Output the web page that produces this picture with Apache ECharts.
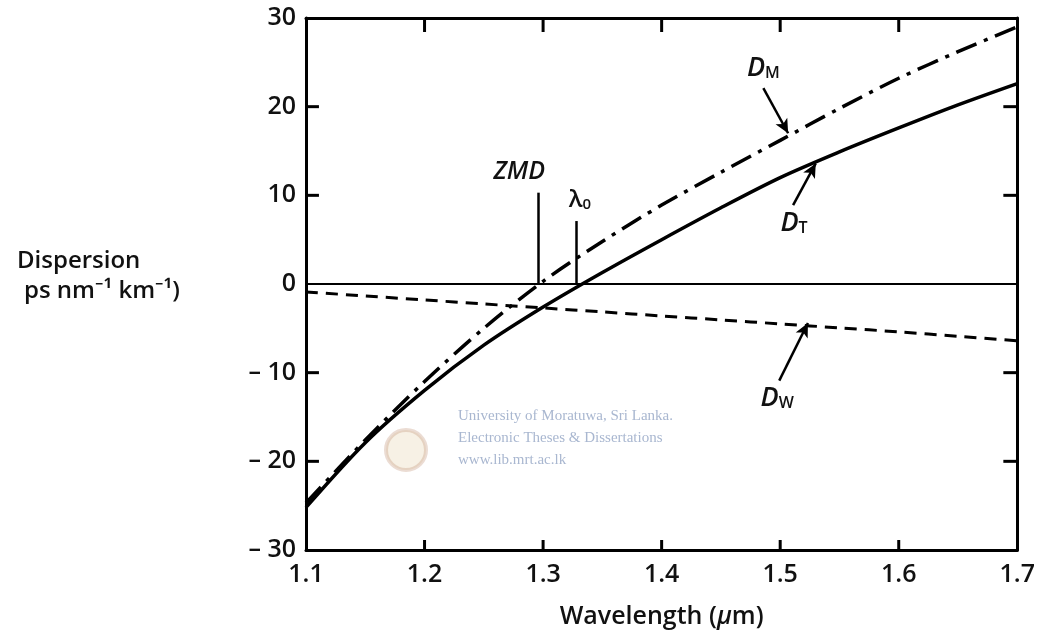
<!DOCTYPE html>
<html>
<head>
<meta charset="utf-8">
<script src="https://cdn.jsdelivr.net/npm/echarts@6/dist/echarts.min.js"></script>
<style>
html,body{margin:0;padding:0;background:#fff;}
#chart{width:1038px;height:643px;}
</style>
</head>
<body>
<div id="chart"></div>
<script>
// ---- data ----
const wavelengths = [1.10, 1.15, 1.20, 1.25, 1.30, 1.35, 1.40, 1.45, 1.50, 1.55, 1.60, 1.65, 1.70];
const dMaterial   = [-24.7, -17.6, -11.0, -5.0, 0.3, 4.8, 8.9, 12.6, 16.2, 19.8, 23.2, 26.2, 29.0];
const dTotal      = [-25.2, -17.9, -12.0, -6.9, -2.6, 1.3, 5.0, 8.6, 12.0, 14.9, 17.6, 20.2, 22.6];
const dWaveguide  = [-0.9, -1.35, -1.8, -2.25, -2.7, -3.15, -3.6, -4.05, -4.5, -4.95, -5.4, -5.9, -6.4];
const xTickValues = [1.1, 1.2, 1.3, 1.4, 1.5, 1.6, 1.7];
const xTickLabels = ['1.1', '1.2', '1.3', '1.4', '1.5', '1.6', '1.7'];
const yTickValues = [-30, -20, -10, 0, 10, 20, 30];
const yTickLabels = ['– 30', '– 20', '– 10', '0', '10', '20', '30'];
// marker lines: [wavelength, top value]
const zmdLine = [1.296, 10.3];
const lambda0Line = [1.3276, 7.1];
// arrows: [fromX, fromY, toX, toY]
const arrowDM = [1.4858, 22.1, 1.5067, 17.0];
const arrowDT = [1.5109, 8.9, 1.530, 13.6];
const arrowDW = [1.4992, -10.9, 1.5234, -4.4];
// label anchors (data coordinates)
const labelDM = [1.4858, 24.3];
const labelDT = [1.5117, 6.85];
const labelDW = [1.4975, -12.9];
const labelZMD = [1.2799, 12.6];
const labelL0 = [1.331, 9.4];

const FONT = '"Open Sans", "Noto Sans", sans-serif';
const chart = echarts.init(document.getElementById('chart'), null, {renderer: 'canvas'});
const GRID = {left: 306, right: 15, top: 18, bottom: 93};

function pairs(ys) { return wavelengths.map((x, i) => [x, ys[i]]); }
function arrowLine(a) { return [{coord: [a[0], a[1]]}, {coord: [a[2], a[3]]}]; }

const xMin = xTickValues[0], xMax = xTickValues[xTickValues.length - 1];
const yMin = yTickValues[0], yMax = yTickValues[yTickValues.length - 1];
// data units per pixel, from the grid size
const xPerPx = (xMax - xMin) / (chart.getWidth() - GRID.left - GRID.right);
const yPerPx = (yMax - yMin) / (chart.getHeight() - GRID.top - GRID.bottom);

// inward tick marks: small rectangles centred half a tick length inside the frame
const tickBottom = [], tickTop = [], tickLeft = [], tickRight = [];
xTickValues.slice(1, -1).forEach(v => {
  tickBottom.push([v, yMin + 5 * yPerPx]);
  tickTop.push([v, yMax - 7 * yPerPx]);
});
yTickValues.slice(1, -1).forEach(v => {
  if (v === 0) return;
  tickLeft.push([xMin + 6.5 * xPerPx, v]);
  tickRight.push([xMax - 7 * xPerPx, v]);
});
function tickSeries(data, size) {
  return {type: 'scatter', data: data, symbol: 'rect', symbolSize: size, silent: true, clip: false,
    itemStyle: {color: '#000', opacity: 1}, z: 6};
}

const axisLine = {show: true, onZero: false, lineStyle: {color: '#000', width: 3}};
const labelFont = {fontFamily: FONT, fontSize: 25, fontWeight: 600, color: '#111'};
const noTick = {show: false};
const option = {
  animation: false,
  backgroundColor: '#fff',
  grid: Object.assign({containLabel: false}, GRID),
  xAxis: [{
    type: 'value', min: 1.1, max: 1.7, interval: 0.1, position: 'bottom',
    axisLine: axisLine, axisTick: noTick,
    axisLabel: Object.assign({margin: 12,
      formatter: v => xTickLabels[Math.round((v - 1.1) * 10)] || ''}, labelFont),
    splitLine: {show: false},
    name: 'Wavelength ({i|μ}m)', nameLocation: 'middle', nameGap: 54,
    nameTextStyle: Object.assign({
      rich: {i: {fontFamily: FONT, fontStyle: 'italic', fontSize: 25, fontWeight: 600, color: '#111'}}}, labelFont)
  }, {
    type: 'value', min: 1.1, max: 1.7, interval: 0.1, position: 'top',
    axisLine: axisLine, axisTick: noTick,
    axisLabel: {show: false}, splitLine: {show: false}
  }],
  yAxis: [{
    type: 'value', min: -30, max: 30, interval: 10, position: 'left',
    axisLine: axisLine, axisTick: noTick,
    axisLabel: Object.assign({margin: 10,
      formatter: v => yTickLabels[yTickValues.indexOf(Math.round(v))] || ''}, labelFont),
    splitLine: {show: false}
  }, {
    type: 'value', min: -30, max: 30, interval: 10, position: 'right',
    axisLine: axisLine, axisTick: noTick,
    axisLabel: {show: false}, splitLine: {show: false}
  }],
  series: [
    {
      name: 'zero', type: 'line', xAxisIndex: 0, yAxisIndex: 0,
      data: [[1.1, 0], [1.7, 0]], symbol: 'none', silent: true,
      lineStyle: {color: '#000', width: 2}
    },
    {
      name: 'D_M', type: 'line', data: pairs(dMaterial), smooth: 0.3, symbol: 'none',
      lineStyle: {color: '#000', width: 3.5, type: [22, 8, 4, 8]},
      markLine: {
        silent: true, symbol: ['none', 'none'], label: {show: false},
        lineStyle: {color: '#000', width: 2.5, type: 'solid'},
        data: [
          [{coord: [zmdLine[0], 0]}, {coord: [zmdLine[0], zmdLine[1]]}],
          [{coord: [lambda0Line[0], 0]}, {coord: [lambda0Line[0], lambda0Line[1]]}]
        ]
      }
    },
    {
      name: 'D_T', type: 'line', data: pairs(dTotal), smooth: 0.3, symbol: 'none',
      lineStyle: {color: '#000', width: 3.5, type: 'solid'},
      markLine: {
        silent: true, symbol: ['none', 'arrow'], symbolSize: [10, 14], label: {show: false},
        lineStyle: {color: '#000', width: 2.5, type: 'solid'},
        data: [arrowLine(arrowDM), arrowLine(arrowDT), arrowLine(arrowDW)]
      }
    },
    {
      name: 'D_W', type: 'line', data: pairs(dWaveguide), smooth: 0.3, symbol: 'none',
      lineStyle: {color: '#000', width: 3, type: [12, 8]}
    },
    tickSeries(tickBottom, [3, 10]),
    tickSeries(tickTop, [3, 14]),
    tickSeries(tickLeft, [13, 3]),
    tickSeries(tickRight, [14, 3])
  ]
};
chart.setOption(option);

function px(p) { return chart.convertToPixel({xAxisIndex: 0, yAxisIndex: 0}, p); }
function richLabel(pos, text, rich, fill) {
  const p = px(pos);
  return {type: 'text', x: p[0], y: p[1], silent: true,
    style: {text: text, rich: rich, align: 'center', verticalAlign: 'middle',
      fill: fill || '#111', font: 'italic 26px ' + FONT}};
}
const dRich = (c) => ({
  d: {fontFamily: FONT, fontStyle: 'italic', fontSize: 27, fontWeight: 600, color: c},
  s: {fontFamily: FONT, fontSize: 16, fontWeight: 600, color: c, padding: [10, 0, 0, 0]}
});

chart.setOption({
  graphic: [
    richLabel(labelDM, '{d|D}{s|M}', dRich('#111')),
    richLabel(labelDT, '{d|D}{s|T}', dRich('#111')),
    richLabel(labelDW, '{d|D}{s|W}', dRich('#8a8a8a')),
    richLabel(labelZMD, '{z|ZMD}', {z: {fontFamily: FONT, fontStyle: 'italic', fontSize: 25, fontWeight: 600, color: '#111'}}),
    richLabel(labelL0, '{l|λ}{s|0}', {
      l: {fontFamily: FONT, fontSize: 24, fontWeight: 600, color: '#111'},
      s: {fontFamily: FONT, fontSize: 15, fontWeight: 600, color: '#111', padding: [8, 0, 0, 0]}
    }),
    {type: 'text', left: 17, top: 249, silent: true,
      style: {text: 'Dispersion', font: '600 24px ' + FONT, fill: '#111'}},
    {type: 'text', left: 24, top: 279, silent: true,
      style: {text: 'ps nm⁻¹ km⁻¹)', font: '600 24px ' + FONT, fill: '#111'}},
    // watermark
    {type: 'circle', shape: {cx: 406, cy: 450, r: 20}, silent: true,
      style: {fill: 'rgba(225,200,150,0.25)', stroke: 'rgba(190,140,110,0.3)', lineWidth: 4}},
    {type: 'text', left: 458, top: 409, silent: true,
      style: {text: 'University of Moratuwa, Sri Lanka.', font: '15px "Liberation Serif", serif', fill: '#a9b7d0'}},
    {type: 'text', left: 458, top: 431, silent: true,
      style: {text: 'Electronic Theses & Dissertations', font: '15px "Liberation Serif", serif', fill: '#a9b7d0'}},
    {type: 'text', left: 458, top: 453, silent: true,
      style: {text: 'www.lib.mrt.ac.lk', font: '15px "Liberation Serif", serif', fill: '#a9b7d0'}}
  ]
});
</script>
</body>
</html>
